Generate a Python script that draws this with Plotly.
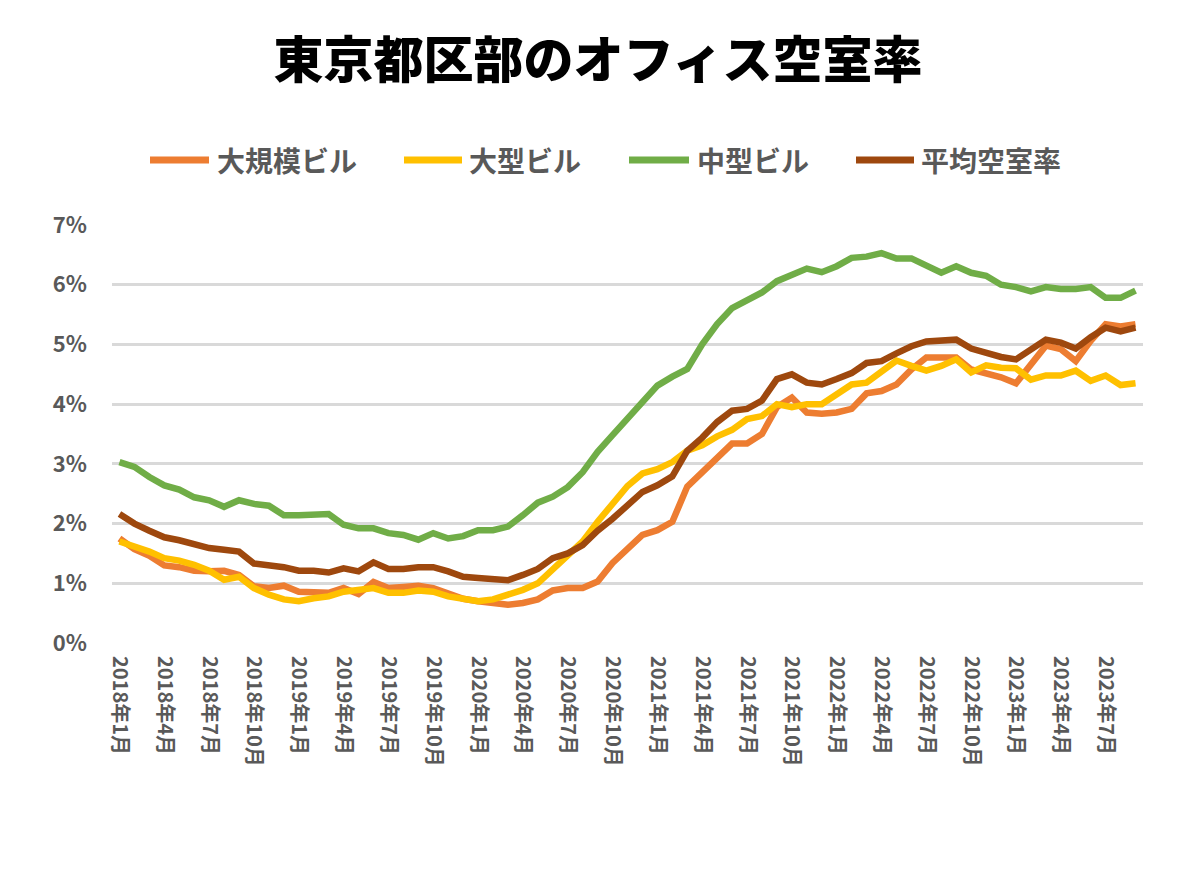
import plotly.graph_objects as go

# Months: 2018年1月 .. 2023年9月 (category labels)
months = [f"{y}年{m}月" for y in range(2018, 2024) for m in range(1, 13)][:69]
tick_labels = months[::3]

large_scale = [1.75, 1.57, 1.46, 1.30, 1.27, 1.21, 1.20, 1.21, 1.14, 0.95,
               0.92, 0.96, 0.86, 0.84, 0.84, 0.92, 0.82, 1.02, 0.92, 0.94,
               0.96, 0.92, 0.84, 0.74, 0.70, 0.68, 0.64, 0.67, 0.73, 0.88,
               0.92, 0.92, 1.03, 1.34, 1.57, 1.81, 1.89, 2.03, 2.62, 2.87,
               3.09, 3.34, 3.34, 3.50, 3.95, 4.11, 3.86, 3.84, 3.86, 3.92,
               4.18, 4.22, 4.33, 4.58, 4.78, 4.78, 4.78, 4.58, 4.52, 4.45,
               4.35, 4.66, 4.98, 4.92, 4.72, 5.06, 5.34, 5.30, 5.34]

large = [1.70, 1.62, 1.53, 1.42, 1.38, 1.31, 1.21, 1.06, 1.11, 0.92,
         0.81, 0.73, 0.70, 0.75, 0.78, 0.86, 0.88, 0.92, 0.84, 0.84,
         0.88, 0.86, 0.78, 0.73, 0.70, 0.73, 0.81, 0.89, 1.00, 1.23,
         1.47, 1.70, 2.03, 2.34, 2.63, 2.84, 2.91, 3.03, 3.22, 3.31,
         3.46, 3.57, 3.75, 3.80, 4.00, 3.95, 4.00, 4.00, 4.17, 4.33,
         4.36, 4.56, 4.73, 4.64, 4.56, 4.64, 4.75, 4.53, 4.65, 4.61,
         4.60, 4.41, 4.48, 4.48, 4.56, 4.39, 4.48, 4.32, 4.35]

medium = [3.03, 2.95, 2.78, 2.64, 2.57, 2.44, 2.39, 2.28, 2.39, 2.33,
          2.30, 2.14, 2.14, 2.16, 2.16, 1.98, 1.92, 1.92, 1.84, 1.81,
          1.73, 1.84, 1.75, 1.79, 1.89, 1.89, 1.95, 2.14, 2.35, 2.45,
          2.61, 2.86, 3.20, 3.48, 3.76, 4.05, 4.31, 4.46, 4.59, 5.00,
          5.34, 5.61, 5.73, 5.87, 6.06, 6.17, 6.27, 6.21, 6.31, 6.45,
          6.47, 6.53, 6.44, 6.44, 6.31, 6.20, 6.31, 6.20, 6.15, 6.00,
          5.96, 5.89, 5.96, 5.93, 5.93, 5.96, 5.78, 5.78, 5.90]

average = [2.16, 2.00, 1.88, 1.77, 1.72, 1.65, 1.59, 1.56, 1.53, 1.33,
           1.30, 1.27, 1.21, 1.21, 1.18, 1.25, 1.20, 1.35, 1.24, 1.24,
           1.27, 1.27, 1.20, 1.11, 1.09, 1.07, 1.05, 1.14, 1.24, 1.42,
           1.50, 1.64, 1.88, 2.08, 2.32, 2.53, 2.64, 2.79, 3.22, 3.44,
           3.70, 3.89, 3.92, 4.06, 4.42, 4.50, 4.36, 4.33, 4.42, 4.52,
           4.69, 4.72, 4.85, 4.97, 5.05, 5.06, 5.08, 4.93, 4.85, 4.79,
           4.75, 4.92, 5.08, 5.03, 4.93, 5.12, 5.28, 5.22, 5.28]

series_names = ["大規模ビル", "大型ビル", "中型ビル", "平均空室率"]
series_values = [large_scale, large, medium, average]
series_colors = ["#ED7D31", "#FFC000", "#70AD47", "#9E480E"]

FONT = "Noto Sans CJK JP"
GRAY = "#595959"

# figure sits inside the page body (8px default margin)
W, H = 1192, 864
ML, MR, MT, MB = 104, 57, 217, 229

fig = go.Figure()
for name, vals, color in zip(series_names, series_values, series_colors):
    fig.add_trace(go.Scatter(
        x=months, y=vals, name=name, mode="lines",
        line=dict(color=color, width=6.5),
        showlegend=False,
    ))

# Manual legend (long line swatches like the original)
plot_w = W - ML - MR
plot_h = H - MT - MB
def px_x(x):
    return (x - 8 - ML) / plot_w
def px_y(y):
    return (H - MB - (y - 8)) / plot_h

legend_items = [  # (line start, line end, text start) in page px
    (150, 209, 215),
    (404, 462, 467),
    (629, 689, 695),
    (856, 914, 919),
]
legend_y = 160
shapes = []
annotations = []
for (x0, x1, tx), name, color in zip(legend_items, series_names, series_colors):
    shapes.append(dict(
        type="line", xref="paper", yref="paper",
        x0=px_x(x0), x1=px_x(x1), y0=px_y(legend_y), y1=px_y(legend_y),
        line=dict(color=color, width=7),
    ))
    annotations.append(dict(
        xref="paper", yref="paper", x=px_x(tx), y=px_y(legend_y),
        xanchor="left", yanchor="middle", showarrow=False,
        text=f"<b>{name}</b>",
        font=dict(family=FONT, size=28, color=GRAY),
    ))

fig.update_layout(
    width=W, height=H,
    paper_bgcolor="white", plot_bgcolor="white",
    margin=dict(l=ML, r=MR, t=MT, b=MB),
    title=dict(
        text="東京都区部のオフィス空室率",
        x=(598 - 8) / W, xanchor="center",
        y=1 - (60 - 8) / H, yanchor="middle",
        font=dict(family=FONT, size=50, color="black", weight=900),
    ),
    shapes=shapes,
    annotations=annotations,
    showlegend=False,
)

fig.update_xaxes(
    type="category",
    range=[-0.5, len(months) - 0.5],
    tickmode="array", tickvals=tick_labels, ticktext=tick_labels,
    tickangle=90,
    tickfont=dict(family=FONT, size=20, color=GRAY, weight="bold"),
    showgrid=False, showline=False, zeroline=False,
    ticks="", ticklabelstandoff=12,
)
fig.update_yaxes(
    range=[0, 7.0], dtick=1, tick0=0, ticksuffix="%",
    tickfont=dict(family=FONT, size=22, color=GRAY, weight="bold"),
    showgrid=True, gridcolor="#D9D9D9", gridwidth=2.5,
    zeroline=False, showline=False, ticks="", ticklabelstandoff=24,
)

fig.write_html("out.html")
